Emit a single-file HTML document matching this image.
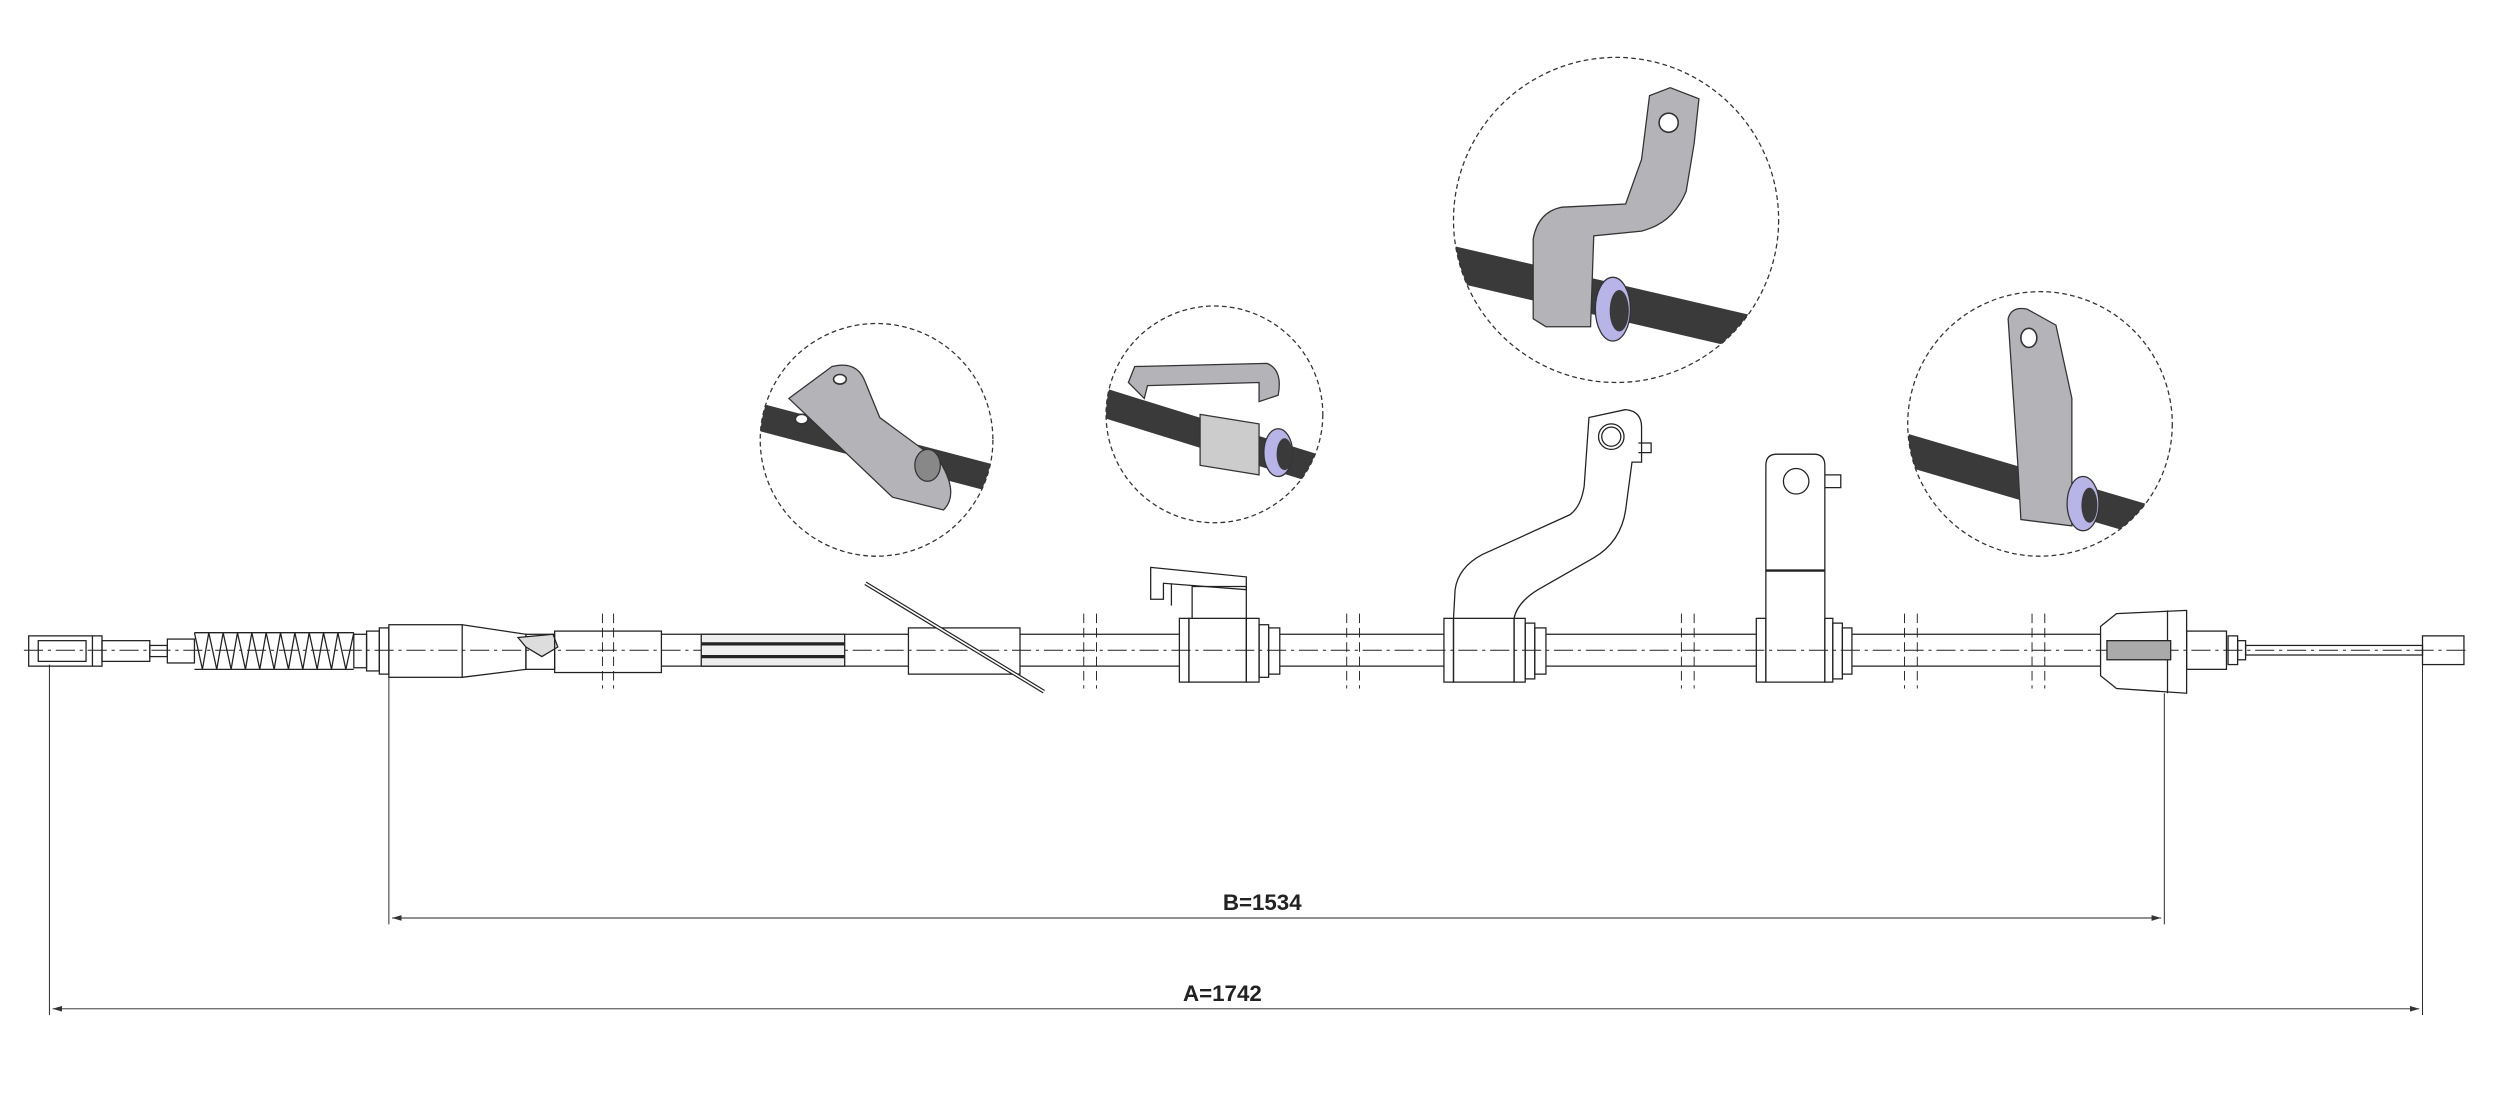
<!DOCTYPE html>
<html><head><meta charset="utf-8"><style>
html,body{margin:0;padding:0;background:#fff;}
svg{display:block}
</style></head><body>
<svg width="2499" height="1110" viewBox="0 0 1568 696.5" preserveAspectRatio="none" xmlns="http://www.w3.org/2000/svg">
<defs>
<clipPath id="k1"><circle cx="550" cy="276" r="73"/></clipPath>
<clipPath id="k2"><circle cx="762" cy="260" r="68"/></clipPath>
<clipPath id="k3"><circle cx="1014" cy="138" r="102"/></clipPath>
<clipPath id="k4"><circle cx="1280" cy="266" r="83"/></clipPath>
<marker id="ar" markerWidth="10" markerHeight="6" refX="10" refY="3" orient="auto"><path d="M0,0 L10,3 L0,6" fill="#333"/></marker>
<marker id="al" markerWidth="10" markerHeight="6" refX="0" refY="3" orient="auto"><path d="M10,0 L0,3 L10,6" fill="#333"/></marker>
</defs>
<g fill="none" stroke="#222" stroke-width="0.8">
<line x1="15" y1="408" x2="1550" y2="408" stroke-dasharray="12 3 2 3" stroke-width="0.6"/>
<rect x="18" y="399" width="46" height="19"/>
<rect x="24" y="402" width="30" height="13"/>
<line x1="58" y1="399" x2="58" y2="418"/>
<rect x="64" y="402" width="30" height="13"/>
<rect x="94" y="405" width="11" height="7"/>
<rect x="105" y="401" width="17" height="15"/>
<path d="M122 397 L127 420 L131 397 L136 420 L140 397 L145 420 L149 397 L154 420 L158 397 L163 420 L167 397 L172 420 L176 397 L181 420 L185 397 L190 420 L194 397 L199 420 L203 397 L208 420 L212 397 L217 420 L222 397"/>
<line x1="122" y1="397" x2="222" y2="397"/><line x1="122" y1="420" x2="222" y2="420"/>
<rect x="222" y="398" width="8" height="21"/><rect x="230" y="396" width="8" height="25"/><rect x="238" y="394" width="6" height="29"/>
<rect x="244" y="392" width="46" height="33"/>
<path d="M290 392 L330 398 L330 420 L290 425"/>
<rect x="330" y="398" width="18" height="22"/>
<path d="M325 400 L347 398 L350 406 L340 412 L330 406 Z" fill="#ddd"/>
<rect x="348" y="396" width="67" height="26"/>
<line x1="415" y1="398" x2="570" y2="398"/><line x1="415" y1="418" x2="570" y2="418"/>
<rect x="440" y="398" width="90" height="20" fill="#eee"/>
<line x1="440" y1="404" x2="530" y2="404" stroke-width="2"/><line x1="440" y1="412" x2="530" y2="412" stroke-width="2"/>
<rect x="570" y="394" width="70" height="29"/>
<line x1="543" y1="366" x2="655" y2="434" stroke-width="2.5"/>
<line x1="543" y1="366" x2="655" y2="434" stroke="#fff" stroke-width="1"/>
<line x1="640" y1="398" x2="740" y2="398"/><line x1="640" y1="418" x2="740" y2="418"/>
<rect x="740" y="388" width="6" height="40"/><rect x="746" y="388" width="36" height="40"/><rect x="782" y="388" width="8" height="40"/>
<rect x="790" y="392" width="6" height="33"/><rect x="796" y="394" width="7" height="29"/>
<path d="M748 388 L748 368 L782 368 L782 388"/>
<path d="M722 356 L782 362 L782 370 L730 366 L730 376 L722 376 Z"/>
<line x1="735" y1="366" x2="735" y2="380"/>
<line x1="803" y1="398" x2="906" y2="398"/><line x1="803" y1="418" x2="906" y2="418"/>
<rect x="906" y="388" width="6" height="40"/><rect x="912" y="388" width="38" height="40"/><rect x="950" y="388" width="7" height="40"/>
<rect x="957" y="391" width="6" height="35"/><rect x="963" y="394" width="7" height="29"/>
<path d="M912 388 L913 370 Q915 356 930 348 L985 323 Q992 318 994 305 L997 262 L1020 257 Q1030 258 1030 268 L1030 290 L1024 290 L1020 320 Q1017 340 1000 350 L965 370 Q952 378 950 388"/>
<circle cx="1011" cy="274" r="8"/><circle cx="1011" cy="274" r="6"/>
<path d="M1028 278 L1036 278 L1036 284 L1028 284"/>
<line x1="970" y1="398" x2="1102" y2="398"/><line x1="970" y1="418" x2="1102" y2="418"/>
<rect x="1102" y="388" width="6" height="40"/>
<path d="M1108 428 L1108 292 Q1108 285 1115 285 L1138 285 Q1145 285 1145 292 L1145 428 Z"/>
<line x1="1108" y1="358" x2="1145" y2="358" stroke-width="1.5"/>
<circle cx="1127" cy="302" r="8"/>
<path d="M1145 298 L1155 298 L1155 306 L1145 306"/>
<rect x="1145" y="388" width="5" height="40"/><rect x="1150" y="391" width="6" height="35"/><rect x="1156" y="394" width="6" height="29"/>
<line x1="1162" y1="398" x2="1318" y2="398"/><line x1="1162" y1="418" x2="1318" y2="418"/>
<path d="M1318 393 L1328 385 L1372 383 L1372 435 L1328 432 L1318 424 Z"/>
<line x1="1360" y1="383" x2="1360" y2="435"/>
<rect x="1322" y="402" width="40" height="12" fill="#aaa"/>
<rect x="1372" y="396" width="25" height="24"/><rect x="1398" y="399" width="6" height="18"/><rect x="1404" y="402" width="5" height="12"/>
<rect x="1409" y="405" width="111" height="6"/>
<rect x="1520" y="399" width="26" height="18"/>
<g stroke-dasharray="6 3" stroke-width="0.6">
<line x1="378" y1="385" x2="378" y2="432"/><line x1="385" y1="385" x2="385" y2="432"/>
<line x1="680" y1="385" x2="680" y2="432"/><line x1="688" y1="385" x2="688" y2="432"/>
<line x1="845" y1="385" x2="845" y2="432"/><line x1="853" y1="385" x2="853" y2="432"/>
<line x1="1055" y1="385" x2="1055" y2="432"/><line x1="1063" y1="385" x2="1063" y2="432"/>
<line x1="1195" y1="385" x2="1195" y2="432"/><line x1="1203" y1="385" x2="1203" y2="432"/>
<line x1="1275" y1="385" x2="1275" y2="432"/><line x1="1283" y1="385" x2="1283" y2="432"/>
</g>
<g stroke-width="0.6">
<line x1="31" y1="417" x2="31" y2="637"/><line x1="1520" y1="417" x2="1520" y2="637"/>
<line x1="244" y1="425" x2="244" y2="580"/><line x1="1358" y1="435" x2="1358" y2="580"/>
<line x1="246" y1="576" x2="1356" y2="576" marker-start="url(#al)" marker-end="url(#ar)"/>
<line x1="33" y1="633" x2="1518" y2="633" marker-start="url(#al)" marker-end="url(#ar)"/>
</g>
</g>
<text x="792" y="571" font-family="Liberation Sans, sans-serif" font-weight="bold" font-size="14" text-anchor="middle" fill="#222">B=1534</text>
<text x="767" y="628" font-family="Liberation Sans, sans-serif" font-weight="bold" font-size="14" text-anchor="middle" fill="#222">A=1742</text>

<g clip-path="url(#k1)">
<line x1="470" y1="260" x2="630" y2="302" stroke="#3a3a3a" stroke-width="17"/>
<path d="M495 250 L522 230 Q538 226 543 240 L552 262 L590 290 Q602 310 592 320 L560 312 Z" fill="#b4b4b8" stroke="#333" stroke-width="0.8"/>
<ellipse cx="582" cy="292" rx="8" ry="10" fill="#888" stroke="#333" stroke-width="0.8"/>
<ellipse cx="527" cy="238" rx="4" ry="3" fill="#fff" stroke="#333"/><ellipse cx="503" cy="263" rx="4" ry="3" fill="#fff" stroke="#333"/>
</g>
<circle cx="550" cy="276" r="73" fill="none" stroke="#333" stroke-width="0.8" stroke-dasharray="3 2"/>
<g clip-path="url(#k2)">
<line x1="690" y1="252" x2="835" y2="297" stroke="#3a3a3a" stroke-width="18"/>
<path d="M708 240 L712 230 L795 228 Q805 232 802 248 L790 252 L790 240 L720 242 L718 250 Z" fill="#b4b4b8" stroke="#333" stroke-width="0.8"/>
<path d="M753 260 L790 266 L790 298 L753 292 Z" fill="#ccc" stroke="#333" stroke-width="0.8"/>
<ellipse cx="802" cy="284" rx="9" ry="15" fill="#b8b4e8" stroke="#333" stroke-width="0.8"/>
<ellipse cx="806" cy="285" rx="5" ry="10" fill="#3a3a3a"/>
</g>
<circle cx="762" cy="260" r="68" fill="none" stroke="#333" stroke-width="0.8" stroke-dasharray="3 2"/>
<g clip-path="url(#k3)">
<line x1="905" y1="164" x2="1120" y2="214" stroke="#3a3a3a" stroke-width="22"/>
<path d="M962 200 L962 150 Q965 133 980 130 L1020 128 L1030 100 L1035 60 L1048 55 L1066 62 L1063 90 L1058 120 Q1050 140 1030 145 L1000 148 L998 205 L970 205 Z" fill="#b4b4b8" stroke="#333" stroke-width="0.8"/>
<circle cx="1047" cy="77" r="6" fill="#fff" stroke="#333"/>
<ellipse cx="1012" cy="194" rx="11" ry="20" fill="#b8b4e8" stroke="#333" stroke-width="0.8"/>
<ellipse cx="1016" cy="195" rx="6" ry="13" fill="#3a3a3a"/>
</g>
<circle cx="1014" cy="138" r="102" fill="none" stroke="#333" stroke-width="0.8" stroke-dasharray="3 2"/>
<g clip-path="url(#k4)">
<line x1="1195" y1="282" x2="1365" y2="332" stroke="#3a3a3a" stroke-width="20"/>
<path d="M1260 200 Q1262 192 1272 194 L1290 204 L1300 250 L1300 330 L1268 326 L1266 290 Z" fill="#b4b4b8" stroke="#333" stroke-width="0.8"/>
<ellipse cx="1273" cy="212" rx="5" ry="6" fill="#fff" stroke="#333"/>
<ellipse cx="1307" cy="316" rx="10" ry="17" fill="#b8b4e8" stroke="#333" stroke-width="0.8"/>
<ellipse cx="1311" cy="317" rx="5" ry="11" fill="#3a3a3a"/>
</g>
<circle cx="1280" cy="266" r="83" fill="none" stroke="#333" stroke-width="0.8" stroke-dasharray="3 2"/>
</svg>
</body></html>
